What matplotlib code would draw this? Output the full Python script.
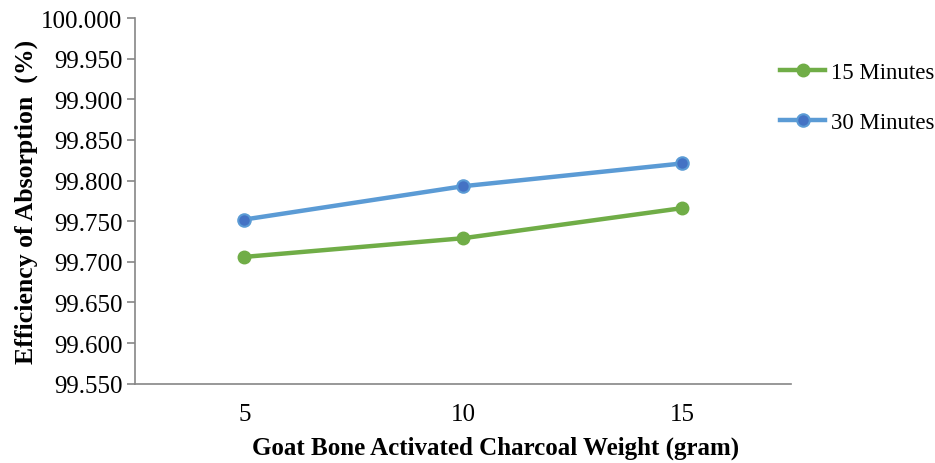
import matplotlib
matplotlib.use("Agg")
import matplotlib.pyplot as plt

plt.rcParams['font.family'] = ['Liberation Serif', 'DejaVu Serif']

weights = ["5", "10", "15"]
eff_15min = [99.706, 99.729, 99.766]
eff_30min = [99.752, 99.793, 99.821]
y_ticks = [99.550, 99.600, 99.650, 99.700, 99.750, 99.800, 99.850, 99.900, 99.950, 100.000]

fig = plt.figure(figsize=(9.35, 4.64), dpi=100)
ax = fig.add_axes([0.1444, 0.171, 0.702, 0.788])

x = range(len(weights))
ax.plot(x, eff_15min, color='#70AD47', lw=3.2, marker='o', ms=9,
        mfc='#70AD47', mec='#70AD47', label='15 Minutes')
ax.plot(x, eff_30min, color='#5B9BD5', lw=3.2, marker='o', ms=9,
        mfc='#4472C4', mec='#5B9BD5', mew=1.5, label='30 Minutes')

ax.set_xlim(-0.5, 2.5)
ax.set_ylim(99.55, 100.0)
ax.set_xticks(list(x))
ax.set_xticklabels(weights)
ax.set_yticks(y_ticks)
ax.set_yticklabels(["%.3f" % v for v in y_ticks])

for s in ['top', 'right']:
    ax.spines[s].set_visible(False)
for s in ['left', 'bottom']:
    ax.spines[s].set_color('#868686')
    ax.spines[s].set_linewidth(1.2)

ax.tick_params(axis='y', length=6, width=1.2, color='#868686', labelsize=18, pad=3)
ax.tick_params(axis='x', length=0, labelsize=18, pad=14)

ax.set_xlabel('Goat Bone Activated Charcoal Weight (gram)', fontsize=18, fontweight='bold')
ax.xaxis.set_label_coords(0.55, -0.142)
ax.set_ylabel('Efficiency of Absorption  (%)', fontsize=18.5, fontweight='bold', labelpad=2)

leg = ax.legend(loc='upper left', bbox_to_anchor=(0.824, 0.885), bbox_transform=fig.transFigure,
                frameon=False, fontsize=16.5, handlelength=2.0, handletextpad=0.25,
                labelspacing=1.3, borderaxespad=0)

fig.savefig('out.png', dpi=100)
